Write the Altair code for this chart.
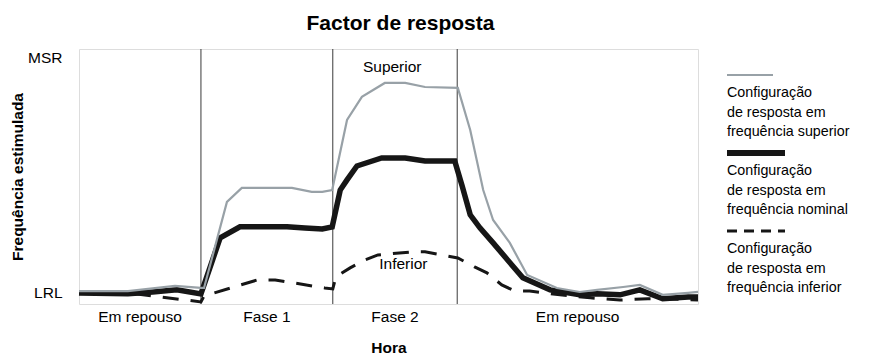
import altair as alt
import pandas as pd

# ---- data (x = time 0..100, y = rate, LRL = 0, MSR = 100) ----
upper_x = [0, 7.9, 15.5, 19.7, 20.2, 23.9, 26.3, 34.4, 37.6, 39.3, 40.9, 43.3, 45.7, 49.4, 52.7, 55.9,
           61.2, 63.2, 65.3, 66.9, 69.6, 72.4, 77.2, 80.9, 83.7, 87.9, 90.6, 94.3, 98.4, 100]
upper_y = [0.8, 0.8, 3.0, 2.1, 2.1, 38.6, 44.5, 44.5, 42.8, 42.8, 43.6, 73.3, 83.1, 89.0, 89.0, 87.3,
           86.9, 69.1, 43.6, 30.9, 21.2, 7.6, 2.1, 0.4, 1.3, 2.5, 3.4, -0.8, 0.0, 0.4]

nominal_x = [0, 7.9, 11.9, 15.8, 19.7, 22.8, 26.0, 33.6, 36.5, 39.3, 40.9, 42.2, 43.3, 44.9, 48.9, 52.7,
             55.9, 60.7, 61.9, 63.2, 64.8, 66.9, 71.7, 76.1, 80.9, 83.7, 87.4, 90.6, 94.3, 98.4, 100]
nominal_y = [0, -0.4, 0.4, 1.3, -0.4, 23.3, 28.0, 28.0, 27.5, 27.1, 28.0, 43.6, 47.9, 53.8, 57.2, 57.2,
             55.9, 55.9, 45.3, 33.1, 27.5, 21.2, 6.4, 1.3, -0.8, -0.4, -0.8, 1.3, -2.5, -1.7, -1.7]

lower_x = [0, 7.9, 19.7, 20.2, 28.8, 31.7, 39.7, 41.0, 41.5, 43.8, 46.2, 48.3, 53.8, 55.9, 58.6, 61.2,
           63.9, 65.9, 68.3, 70.4, 72.8, 77.7, 82.6, 87.4, 91.9, 94.3, 100]
lower_y = [0, 0, -3.8, -1.3, 5.5, 5.5, 2.1, 1.7, 6.8, 10.6, 14.0, 16.1, 17.4, 17.4, 16.1, 14.8,
           11.0, 8.5, 3.4, 0.8, 0.8, -0.8, -2.1, -3.0, -2.5, -2.5, -3.0]

boundaries = [19.7, 41.0, 61.1]
phase_labels = ["Em repouso", "Fase 1", "Fase 2", "Em repouso"]

annot_text = ["Superior", "Inferior"]
annot_x = [50.6, 52.4]
annot_y = [93.6, 10.2]

legend_labels = [
    "Configuração\nde resposta em\nfrequência superior",
    "Configuração\nde resposta em\nfrequência nominal",
    "Configuração\nde resposta em\nfrequência inferior",
]

# ---- layout / style ----
W, H = 619, 255
FONT = "Liberation Sans"
GRAY = "#98a1a7"
BLACK = "#161616"

xs = alt.Scale(domain=[0, 100], nice=False, zero=False)
ys = alt.Scale(domain=[-4.7, 103.4], nice=False, zero=False)

X = alt.X("x:Q", scale=xs, axis=alt.Axis(
    title="Hora", labels=False, ticks=False, domain=False, grid=False,
    titleFont=FONT, titleFontSize=15.5, titleFontWeight="bold", titleColor="black",
    titlePadding=36))
Y = alt.Y("y:Q", scale=ys, axis=alt.Axis(
    values=[0, 100], labelExpr="datum.value == 0 ? 'LRL' : 'MSR'",
    ticks=False, domain=False, grid=False,
    labelFont=FONT, labelFontSize=15.5, labelColor="black", labelPadding=17,
    title="Frequência estimulada", titleFont=FONT, titleFontSize=15.5,
    titleFontWeight="bold", titleColor="black", titlePadding=2))

df_up = pd.DataFrame({"x": upper_x, "y": upper_y})
df_nom = pd.DataFrame({"x": nominal_x, "y": nominal_y})
df_low = pd.DataFrame({"x": lower_x, "y": lower_y})

edges = [0] + boundaries + [100]
df_phase = pd.DataFrame({
    "x": [(edges[i] + edges[i + 1]) / 2 for i in range(len(phase_labels))],
    "label": phase_labels,
})
df_bound = pd.DataFrame({"x": boundaries})
df_annot = pd.DataFrame({"x": annot_x, "y": annot_y, "label": annot_text})

bounds = alt.Chart(df_bound).mark_rule(color="#3a3a3a", strokeWidth=1).encode(x=X)

nominal = alt.Chart(df_nom).mark_line(color=BLACK, strokeWidth=5.5).encode(x=X, y=Y)
lower = alt.Chart(df_low).mark_line(color=BLACK, strokeWidth=3, strokeDash=[16, 12],
                                    strokeCap="butt").encode(x=X, y=Y)
upper = alt.Chart(df_up).mark_line(color=GRAY, strokeWidth=2.2).encode(x=X, y=Y)

annots = alt.Chart(df_annot).mark_text(font=FONT, fontSize=15.5, color="black",
                                       align="center", baseline="alphabetic").encode(
    x=X, y=Y, text="label:N")

phases = alt.Chart(df_phase).mark_text(font=FONT, fontSize=15.5, color="black",
                                       align="center", baseline="alphabetic").encode(
    x=X, y=alt.value(H + 18), text="label:N")

# ---- hand-built legend to the right of the plot ----
legend_layers = []
styles = [
    dict(color=GRAY, strokeWidth=2),
    dict(color=BLACK, strokeWidth=6),
    dict(color=BLACK, strokeWidth=3, strokeDash=[10, 7], strokeCap="butt"),
]
sample_len = [46, 58, 58]
for i, lab in enumerate(legend_labels):
    ly = 26 + i * 78
    legend_layers.append(
        alt.Chart(pd.DataFrame({"label": [lab]})).mark_rule(**styles[i]).encode(
            x=alt.value(648), x2=alt.value(648 + sample_len[i]), y=alt.value(ly)))
    legend_layers.append(
        alt.Chart(pd.DataFrame({"label": [lab]})).mark_text(
            font=FONT, fontSize=14.3, color="black", align="left", baseline="alphabetic",
            lineBreak="\n", lineHeight=19.5).encode(
            x=alt.value(648), y=alt.value(ly + 22), text="label:N"))

chart = alt.layer(bounds, nominal, lower, upper, annots, phases, *legend_layers).properties(
    width=W, height=H,
    title=alt.TitleParams("Factor de resposta", font=FONT, fontSize=21, fontWeight="bold",
                          color="black", anchor="middle", dx=12, offset=15),
    autosize=alt.AutoSizeParams(type="none"),
    padding={"left": 71, "top": 41, "right": 183, "bottom": 50},
).configure_view(stroke="black", strokeWidth=2).configure(background="white")

chart.save("out.html", embed_options={"renderer": "svg", "actions": False})
